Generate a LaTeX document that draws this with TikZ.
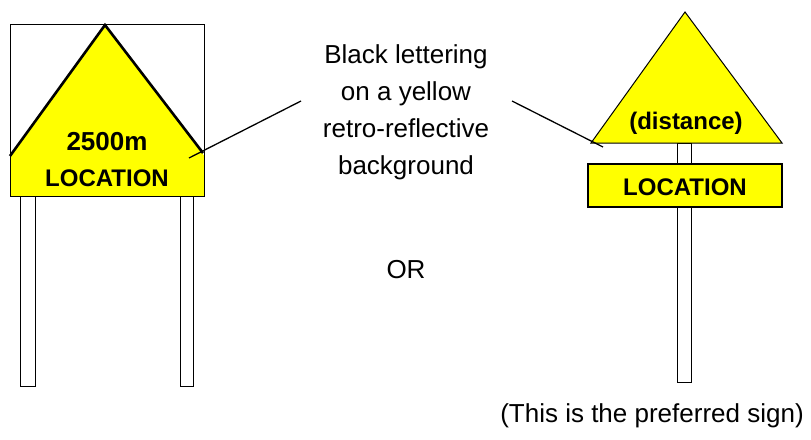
\documentclass[tikz,border=0pt]{standalone}
\usepackage{fontspec}
\setmainfont{Liberation Sans}
\usepackage{tikz}

\definecolor{signyellow}{RGB}{255,255,0}

\tikzset{
  signtext/.style={font=\bfseries\fontsize{24}{24}\selectfont, inner sep=0pt},
  plaintext/.style={font=\fontsize{26}{37}\selectfont, inner sep=0pt},
  post/.style={draw, line width=0.8pt, fill=white},
  leader/.style={draw, line width=1.3pt}
}

\begin{document}
\begin{tikzpicture}[x=1pt, y=-1pt]
\useasboundingbox (0,0) rectangle (811,439);

% two-legged sign
\draw[post] (20,196) rectangle (35,386);
\draw[post] (180,196) rectangle (193,386);
\fill[signyellow] (10,155) rectangle (204,197);
\fill[signyellow] (10,156) -- (105,25) -- (203,153) -- (203,156) -- cycle;
\draw[line width=0.8pt] (10,24) rectangle (204,196);
\draw[line width=2.6pt] (10,156) -- (105,25) -- (203,153);
\node[signtext, font=\bfseries\fontsize{26}{26}\selectfont] (dist1) at (107,142) {2500m};
\node[signtext] (loc1) at (107,178) {LOCATION};

% single post sign
\draw[post] (677,143) rectangle (691,382);
\draw[line width=1pt, fill=signyellow] (685,12) -- (591,143) -- (782,143) -- cycle;
\node[signtext] (dist2) at (686,123) {(distance)};
\draw[line width=1.3pt, fill=signyellow] (588,164) rectangle (782,207);
\node[signtext] (loc2) at (685,187) {LOCATION};

% callout
\node[plaintext, align=center] (note) at (406,112)
  {Black lettering\\on a yellow\\retro-reflective\\background};
\coordinate (tipl) at (189,158);
\coordinate (endl) at (301,101);
\coordinate (tipr) at (603,147);
\coordinate (endr) at (512,101);
\draw[leader] (tipl) -- (endl);
\draw[leader] (endr) -- (tipr);

\node[plaintext] (or) at (406,270) {OR};
\node[plaintext] (pref) at (652,416) {(This is the preferred sign)};

\end{tikzpicture}
\end{document}
